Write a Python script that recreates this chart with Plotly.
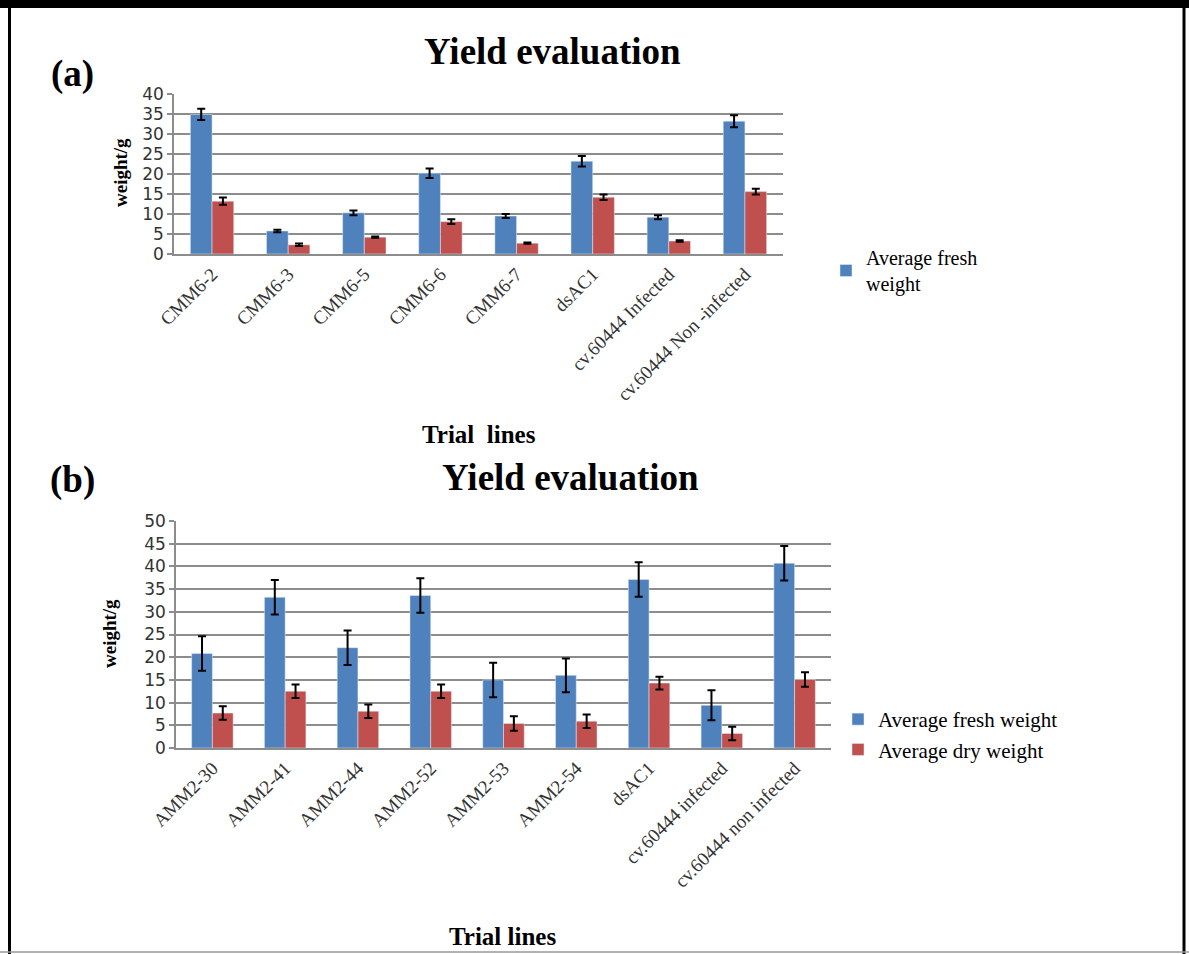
import plotly.graph_objects as go

W, H = 1189, 954

# Panel (a) data
cats_a = ["CMM6-2", "CMM6-3", "CMM6-5", "CMM6-6", "CMM6-7", "dsAC1",
          "cv.60444 Infected", "cv.60444 Non -infected"]
fresh_a = [34.9, 5.75, 10.3, 20.2, 9.5, 23.2, 9.2, 33.2]
fresh_a_err = [1.4, 0.3, 0.6, 1.2, 0.5, 1.3, 0.5, 1.5]
dry_a = [13.2, 2.3, 4.2, 8.1, 2.7, 14.2, 3.25, 15.6]
dry_a_err = [0.9, 0.3, 0.15, 0.6, 0.15, 0.7, 0.2, 0.7]

# Panel (b) data
cats_b = ["AMM2-30", "AMM2-41", "AMM2-44", "AMM2-52", "AMM2-53", "AMM2-54",
          "dsAC1", "cv.60444 infected", "cv.60444 non infected"]
fresh_b = [20.8, 33.2, 22.1, 33.6, 15.0, 16.0, 37.1, 9.4, 40.7]
fresh_b_err = [3.8, 3.8, 3.8, 3.8, 3.8, 3.7, 3.8, 3.3, 3.8]
dry_b = [7.7, 12.5, 8.1, 12.5, 5.4, 5.9, 14.3, 3.2, 15.1]
dry_b_err = [1.5, 1.5, 1.5, 1.5, 1.6, 1.5, 1.4, 1.5, 1.6]

BLUE = "#4F81BD"
RED = "#C0504D"
GRID = "#8c8c8c"
SERIF = "Liberation Serif"
SANS = "DejaVu Sans"


def px(x):
    return x / W


def py(y):
    return 1 - y / H


fig = go.Figure()

err_style = dict(type="data", color="black", thickness=2, width=4)

fig.add_trace(go.Bar(x=cats_a, y=fresh_a, name="Average fresh<br>weight",
                     marker_color=BLUE, error_y=dict(array=fresh_a_err, **err_style),
                     xaxis="x", yaxis="y", legend="legend"))
fig.add_trace(go.Bar(x=cats_a, y=dry_a, name="Average dry weight",
                     marker_color=RED, error_y=dict(array=dry_a_err, **err_style),
                     xaxis="x", yaxis="y", showlegend=False))
fig.add_trace(go.Bar(x=cats_b, y=fresh_b, name="Average fresh weight",
                     marker_color=BLUE, error_y=dict(array=fresh_b_err, **err_style),
                     xaxis="x2", yaxis="y2", legend="legend2"))
fig.add_trace(go.Bar(x=cats_b, y=dry_b, name="Average dry weight",
                     marker_color=RED, error_y=dict(array=dry_b_err, **err_style),
                     xaxis="x2", yaxis="y2", legend="legend2"))

xax = dict(showline=True, linecolor=GRID, linewidth=1.5, tickangle=-45,
           tickfont=dict(family=SERIF, size=19, color="#333"), ticks="",
           showgrid=False, automargin=False)
yax = dict(showline=True, linecolor=GRID, linewidth=1.5, showgrid=True,
           gridcolor=GRID, gridwidth=1.5, ticks="outside", ticklen=5,
           tickcolor=GRID, tickwidth=1.5, dtick=5, zeroline=False, automargin=False,
           tickfont=dict(family=SANS, size=17, color="#333"))

fig.update_layout(
    width=W, height=H,
    margin=dict(l=0, r=0, t=0, b=0, pad=0, autoexpand=False),
    paper_bgcolor="white", plot_bgcolor="white",
    barmode="group", bargap=0.43, bargroupgap=0,
    xaxis=dict(domain=[px(174), px(783)], anchor="y", **xax),
    yaxis=dict(domain=[py(254), py(94)], range=[0, 40], anchor="x", **yax),
    xaxis2=dict(domain=[px(176), px(831)], anchor="y2", **xax),
    yaxis2=dict(domain=[py(748), py(521)], range=[0, 50], anchor="x2", **yax),
    legend=dict(x=px(826), y=py(238), xanchor="left", yanchor="top",
                font=dict(family=SERIF, size=20, color="black"),
                bgcolor="rgba(0,0,0,0)", itemwidth=30, tracegroupgap=4),
    legend2=dict(x=px(838), y=py(699), xanchor="left", yanchor="top",
                 font=dict(family=SERIF, size=21, color="black"),
                 bgcolor="rgba(0,0,0,0)", itemwidth=30, tracegroupgap=6),
    showlegend=True,
)

ann = []


def add_text(text, x, y, size, angle=0, bold=True, family=SERIF):
    ann.append(dict(text=f"<b>{text}</b>" if bold else text, x=px(x), y=py(y),
                    xref="paper", yref="paper", showarrow=False,
                    xanchor="center", yanchor="middle", textangle=angle,
                    font=dict(family=family, size=size, color="black")))


add_text("Yield evaluation", 552, 52, 37)
add_text("Yield evaluation", 570, 478, 37)
add_text("(a)", 72, 74, 37)
add_text("(b)", 72, 480, 37)
add_text("weight/g", 120, 173, 19, angle=-90)
add_text("weight/g", 109, 634, 19, angle=-90)
add_text("Trial  lines", 479, 434, 25)
add_text("Trial lines", 502, 936, 25)
fig.update_layout(annotations=ann)

# Frame around the picture
fig.update_layout(shapes=[
    dict(type="rect", xref="paper", yref="paper", x0=0, x1=1, y0=py(8), y1=1,
         fillcolor="black", line=dict(width=0)),
    dict(type="line", xref="paper", yref="paper", x0=px(9.5), x1=px(9.5), y0=0, y1=1,
         line=dict(color="black", width=3)),
    dict(type="line", xref="paper", yref="paper", x0=px(1184), x1=px(1184), y0=0, y1=1,
         line=dict(color="black", width=3)),
    dict(type="line", xref="paper", yref="paper", x0=0, x1=1, y0=py(952), y1=py(952),
         line=dict(color="#999", width=1.5)),
])

fig.write_html("out.html", config={"displayModeBar": False},
               post_script="document.body.style.margin='0';document.body.style.overflow='hidden';")
